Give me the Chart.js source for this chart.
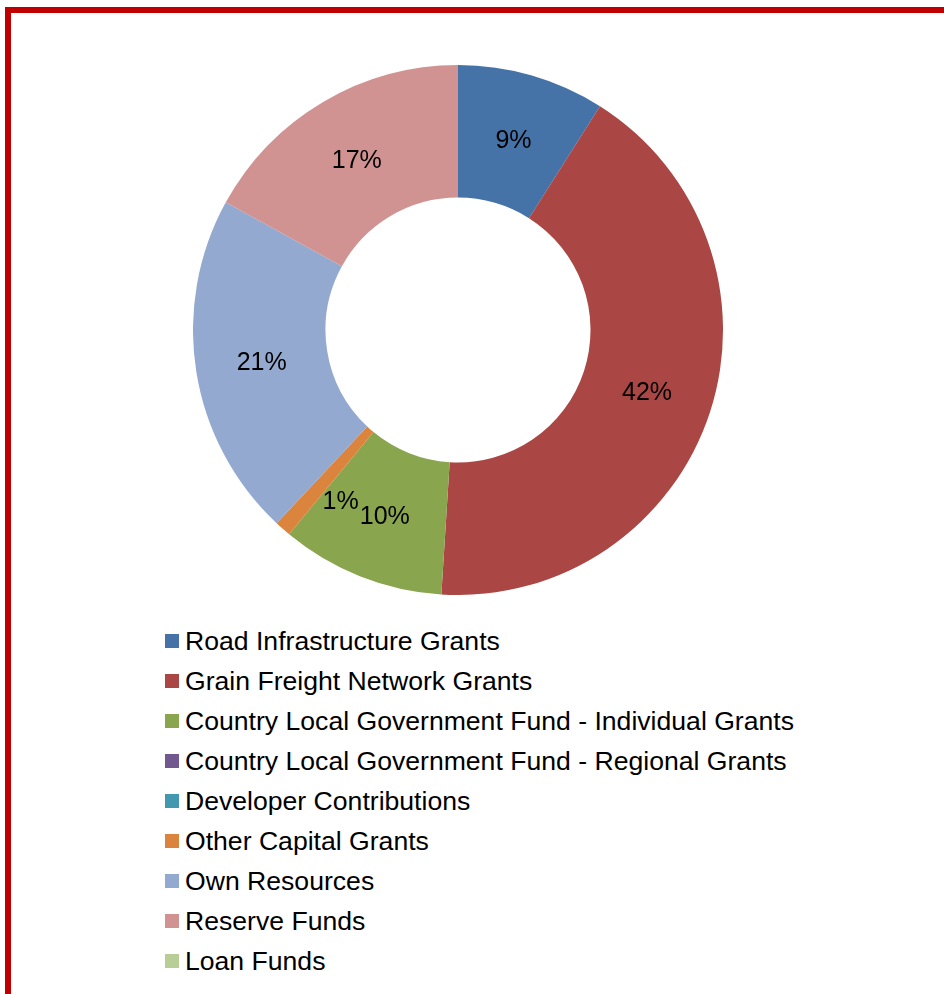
<!DOCTYPE html>
<html>
<head>
<meta charset="utf-8">
<script src="https://cdn.jsdelivr.net/npm/chart.js@4"></script>
<style>
  html, body { margin: 0; padding: 0; background: #fff; overflow: hidden; }
  body { width: 944px; height: 994px; position: relative; font-family: "Liberation Sans", Arial, sans-serif; }
  .frame { position: absolute; left: 5px; top: 7px; width: 1000px; height: 1100px; border: 6px solid #c00000; }
  #donut { position: absolute; left: 193px; top: 65px; }
  .legend { position: absolute; left: 165px; top: 621px; }
  .legend-row { display: flex; align-items: center; height: 40px; font-size: 26.6px; color: #000; white-space: nowrap; }
  .legend-row span.box { width: 14px; height: 14px; margin-right: 6px; flex: none; }
</style>
</head>
<body>
<div class="frame"></div>
<canvas id="donut" width="530" height="530"></canvas>
<div class="legend" id="legend"></div>

<script>
const categories = [
  'Road Infrastructure Grants',
  'Grain Freight Network Grants',
  'Country Local Government Fund - Individual Grants',
  'Country Local Government Fund - Regional Grants',
  'Developer Contributions',
  'Other Capital Grants',
  'Own Resources',
  'Reserve Funds',
  'Loan Funds'
];
const shares = [9, 42, 10, 0, 0, 1, 21, 17, 0];
const colors = ['#4572a7', '#aa4643', '#89a54e', '#71588f', '#4198af', '#db843d', '#93a9cf', '#d19392', '#b9cd96'];

// nudge the small slice's label off its neighbour
const labelShift = { 5: [14, 21] };

const sliceLabels = {
  id: 'sliceLabels',
  afterDatasetsDraw(chart) {
    const ctx = chart.ctx;
    const meta = chart.getDatasetMeta(0);
    ctx.save();
    ctx.font = '25px "Liberation Sans", Arial, sans-serif';
    ctx.fillStyle = '#000';
    ctx.textAlign = 'center';
    ctx.textBaseline = 'alphabetic';
    meta.data.forEach((arc, i) => {
      const v = shares[i];
      if (!v) return;
      const p = arc.tooltipPosition();
      const s = labelShift[i] || [0, 0];
      ctx.fillText(v + '%', p.x + s[0], p.y + s[1] + 9);
    });
    ctx.restore();
  }
};

new Chart(document.getElementById('donut'), {
  type: 'doughnut',
  data: {
    labels: categories,
    datasets: [{
      data: shares,
      backgroundColor: colors,
      borderWidth: 0
    }]
  },
  options: {
    responsive: false,
    animation: false,
    cutout: '50%',
    layout: { padding: 0 },
    plugins: {
      legend: { display: false },
      tooltip: { enabled: false }
    }
  },
  plugins: [sliceLabels]
});

const legend = document.getElementById('legend');
categories.forEach((name, i) => {
  const row = document.createElement('div');
  row.className = 'legend-row';
  const box = document.createElement('span');
  box.className = 'box';
  box.style.background = colors[i];
  row.appendChild(box);
  row.appendChild(document.createTextNode(name));
  legend.appendChild(row);
});
</script>
</body>
</html>
